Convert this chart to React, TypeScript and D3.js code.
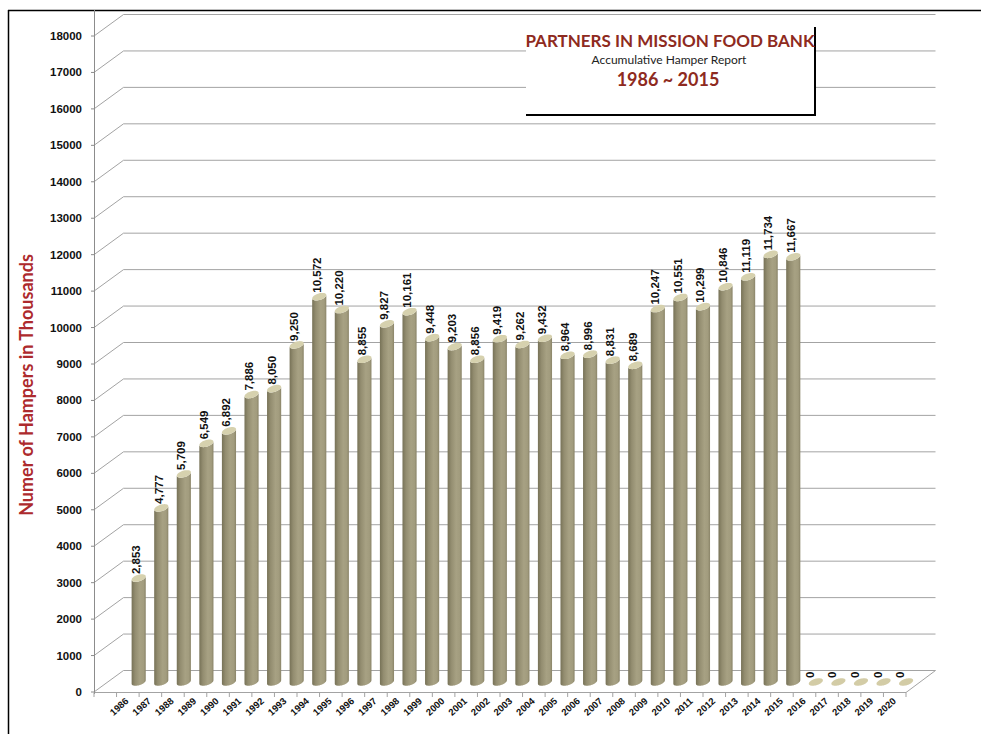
import React from "react";
import * as d3 from "d3";

const years: string[] = [
  "1986","1987","1988","1989","1990","1991","1992","1993","1994","1995",
  "1996","1997","1998","1999","2000","2001","2002","2003","2004","2005",
  "2006","2007","2008","2009","2010","2011","2012","2013","2014","2015",
  "2016","2017","2018","2019","2020",
];
const hampers: number[] = [
  2853, 4777, 5709, 6549, 6892, 7886, 8050, 9250, 10572, 10220,
  8855, 9827, 10161, 9448, 9203, 8856, 9419, 9262, 9432, 8964,
  8996, 8831, 8689, 10247, 10551, 10299, 10846, 11119, 11734, 11667,
  0, 0, 0, 0, 0,
];
const yTicks: number[] = [0,1000,2000,3000,4000,5000,6000,7000,8000,9000,10000,11000,12000,13000,14000,15000,16000,17000,18000];

const W = 981, H = 734;
const DX = 29.5, DY = 21.5; // depth vector
const HALF_DY = 10;

export default function App() {
  const y = d3.scaleLinear().domain([0, 18000]).range([692, 36]);
  const xBand = d3.scaleBand<string>().domain(years).range([127.4, 917.4]).padding(0);
  const xTick = d3.scaleLinear().domain([0, 36]).range([94, 906]);
  const fmt = d3.format(",");
  const fontNum = "'Liberation Sans', Arial, sans-serif";
  const fontTitle = "Lato, 'Open Sans', sans-serif";

  const r = 6.3, a = 3.2, b = 3.8;
  const t0 = Math.atan2(a, r);
  const pt = (cx: number, cy: number, t: number) => [cx + r * Math.cos(t) + a * Math.sin(t), cy - b * Math.sin(t)];
  const ellipsePath = (cx: number, cy: number) => {
    const pts: number[][] = [];
    for (let i = 0; i <= 40; i++) pts.push(pt(cx, cy, (i / 40) * Math.PI * 2));
    return d3.line()(pts as [number, number][]) + "Z";
  };
  const bodyPath = (cx: number, topY: number, baseY: number) => {
    const pts: number[][] = [];
    for (let i = 0; i <= 20; i++) pts.push(pt(cx, baseY, t0 + Math.PI + (i / 20) * Math.PI));
    for (let i = 20; i >= 0; i--) pts.push(pt(cx, topY, t0 + Math.PI + (i / 20) * Math.PI));
    return d3.line()(pts as [number, number][]) + "Z";
  };

  const baseY = y(0) - HALF_DY;

  return (
    <div style={{ position: "absolute", left: 0, top: 0, width: W, height: H, background: "#fff" }}>
      <svg width={W} height={H} style={{ display: "block" }}>
        <defs>
          <linearGradient id="barGrad" x1="0" x2="1" y1="0" y2="0">
            <stop offset="0" stopColor="#777257" />
            <stop offset="0.25" stopColor="#938d70" />
            <stop offset="0.6" stopColor="#a7a183" />
            <stop offset="0.85" stopColor="#a29c7e" />
            <stop offset="1" stopColor="#8a8468" />
          </linearGradient>
        </defs>
        <rect x={0} y={0} width={W} height={H} fill="#fff" />
        <line x1={8} y1={10.5} x2={W} y2={10.5} stroke="#000" strokeWidth={1.5} />
        <line x1={8.5} y1={10} x2={8.5} y2={H} stroke="#000" strokeWidth={1.5} />

        {yTicks.map((v) => (
          <g key={"g" + v}>
            <line x1={94} y1={y(v)} x2={94 + DX} y2={y(v) - DY} stroke="#a3a3a3" strokeWidth={1} />
            <line x1={94 + DX} y1={y(v) - DY} x2={xTick(36) + DX} y2={y(v) - DY} stroke="#a3a3a3" strokeWidth={1} />
          </g>
        ))}
        <line x1={94} y1={y(0) + 0.5} x2={xTick(36)} y2={y(0) + 0.5} stroke="#a3a3a3" strokeWidth={1} />
        <line x1={xTick(36)} y1={y(0) + 0.5} x2={xTick(36) + DX} y2={y(0) - DY} stroke="#a3a3a3" strokeWidth={1} />
        <line x1={94.5} y1={10} x2={94.5} y2={y(0) + 2} stroke="#8c8c8c" strokeWidth={1} />
        {yTicks.map((v) => (
          <g key={"t" + v}>
            <line x1={91} y1={y(v)} x2={94} y2={y(v)} stroke="#8c8c8c" />
            <text x={82} y={y(v)} dy="0.35em" textAnchor="end" fontFamily={fontNum} fontWeight="bold" fontSize={11.5} fill="#111">
              {v}
            </text>
          </g>
        ))}
        {d3.range(0, 37).map((i) => (
          <line key={"xt" + i} x1={xTick(i)} y1={y(0) + 0.5} x2={xTick(i)} y2={y(0) + 5} stroke="#a3a3a3" />
        ))}

        {years.map((yr, i) => {
          const v = hampers[i];
          const cx = (xBand(yr) as number) + xBand.bandwidth() / 2;
          const topY = y(v) - HALF_DY;
          return (
            <g key={"b" + yr}>
              {v > 0 && <path d={bodyPath(cx, topY, baseY)} fill="url(#barGrad)" />}
              <path d={ellipsePath(cx, topY)} fill={v > 0 ? "#d6d1ae" : "#d3cca6"} />
              <text
                transform={`translate(${cx + (v > 0 ? 1.5 : -2)},${topY - 4}) rotate(-90)`}
                textAnchor="start"
                fontFamily={fontNum}
                fontWeight="bold"
                fontSize={11.5}
                fill="#111"
              >
                {fmt(v)}
              </text>
            </g>
          );
        })}

        {years.map((yr) => {
          const cx = (xBand(yr) as number) + xBand.bandwidth() / 2;
          return (
            <text
              key={"xl" + yr}
              transform={`translate(${cx - 9.5},${y(0) + 10}) rotate(-42)`}
              textAnchor="end"
              fontFamily={fontNum}
              fontWeight="bold"
              fontSize={9.5}
              fill="#111"
            >
              {yr}
            </text>
          );
        })}

        <text
          transform={`translate(33,385) rotate(-90)`}
          textAnchor="middle"
          fontFamily={fontTitle}
          fontWeight="bold"
          fontSize={18}
          fill="#ad2a2d"
        >
          Numer of Hampers in Thousands
        </text>

        <rect x={526} y={27} width={289} height={88} fill="#fff" />
        <line x1={526} y1={115} x2={816} y2={115} stroke="#000" strokeWidth={2} />
        <line x1={815} y1={27} x2={815} y2={116} stroke="#000" strokeWidth={2} />
        <text x={670} y={47} textAnchor="middle" fontFamily={fontTitle} fontWeight="bold" fontSize={17} fill="#8e2a20">
          PARTNERS IN MISSION FOOD BANK
        </text>
        <text x={669} y={64} textAnchor="middle" fontFamily={fontTitle} fontSize={12} fill="#222">
          Accumulative Hamper Report
        </text>
        <text x={668} y={86} textAnchor="middle" fontFamily={fontTitle} fontWeight="bold" fontSize={18} fill="#8e2a20">
          1986 ~ 2015
        </text>
      </svg>
    </div>
  );
}
